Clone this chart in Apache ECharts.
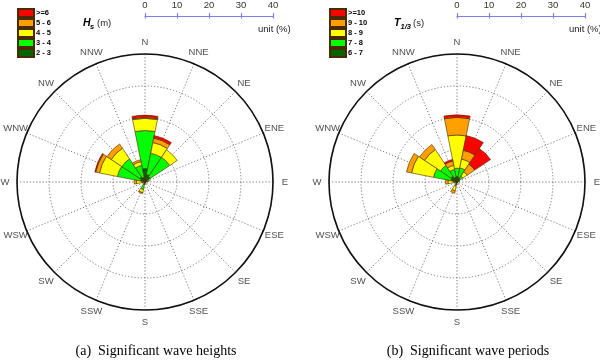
<!DOCTYPE html>
<html>
<head>
<meta charset="utf-8">
<script src="https://cdn.jsdelivr.net/npm/echarts@6/dist/echarts.min.js"></script>
<style>
html,body{margin:0;padding:0;background:#fff;}
#chart{width:600px;height:361px;}
</style>
</head>
<body>
<div id="chart"></div>
<script>
// ---- data ----
const dirs = ['N','NNE','NE','ENE','E','ESE','SE','SSE','S','SSW','SW','WSW','W','WNW','NW','NNW'];
const scaleTicks = [0, 10, 20, 30, 40];

// (a) significant wave heights, frequency (%) by class
const hsNames = ['2 - 3', '3 - 4', '4 - 5', '5 - 6', '>=6'];
const hs_2_3 = [4.2, 2.4, 2.0, 0.8, 0.3, 0.2, 0.2, 0.2, 0.5, 0.8, 0.3, 0.3, 0.6, 1.5, 2.0, 1.5];
const hs_3_4 = [11.9, 6.8, 7.3, 0.6, 0, 0, 0, 0, 0, 1.6, 0, 0, 0.5, 7.3, 6.7, 3.8];
const hs_4_5 = [3.8, 3.4, 2.8, 0, 0, 0, 0, 0, 0, 1.0, 0, 0, 1.6, 5.7, 4.0, 1.2];
const hs_5_6 = [0.3, 1.4, 0, 0, 0, 0, 0, 0, 0, 0.3, 0, 0, 0.7, 1.2, 1.6, 0.6];
const hs_6   = [0.7, 0.8, 0, 0, 0, 0, 0, 0, 0, 0, 0, 0, 0, 0.3, 0, 0];

// (b) significant wave periods, frequency (%) by class
const tNames = ['6 - 7', '7 - 8', '8 - 9', '9 - 10', '>=10'];
const t_6_7  = [1.7, 1.5, 1.2, 0.5, 0.2, 0.2, 0.2, 0.2, 0.4, 0.8, 0.3, 0.3, 0.5, 2.0, 2.3, 1.5];
const t_7_8  = [2.6, 3.0, 1.0, 0.3, 0, 0, 0, 0, 0, 0.5, 0, 0, 0.7, 5.5, 3.9, 2.5];
const t_8_9  = [10.4, 2.8, 1.6, 0, 0, 0, 0, 0, 0, 1.5, 0, 0, 1.6, 7.0, 6.0, 1.3];
const t_9_10 = [5.5, 2.8, 2.9, 0, 0, 0, 0, 0, 0, 0.8, 0, 0, 0.8, 1.6, 1.9, 1.4];
const t_10   = [0.8, 4.7, 5.9, 0, 0, 0, 0, 0, 0, 0, 0, 0, 0, 0, 0, 0.5];

const classColors = ['#006400', '#00ff00', '#ffff00', '#ffa000', '#ff0000'];
const hsSeriesData = [hs_2_3, hs_3_4, hs_4_5, hs_5_6, hs_6];
const tSeriesData = [t_6_7, t_7_8, t_8_9, t_9_10, t_10];

// ---- layout ----
const R = 128, CY = 182;
const centers = [[145, CY], [457, CY]];
const RMAX = 40;
const LABEL_R = 43.75; // direction labels just outside the rim

const chart = echarts.init(document.getElementById('chart'), null, {renderer: 'canvas'});
const sans = 'Liberation Sans, Arial, sans-serif';

const polar = [], angleAxis = [], radiusAxis = [], series = [];
centers.forEach((c, k) => {
  const gi = k * 2, bi = k * 2 + 1;
  polar.push({center: c, radius: R});
  polar.push({center: c, radius: R});
  // grid polar
  angleAxis.push({
    polarIndex: gi, type: 'value', min: 0, max: 360, interval: 22.5, startAngle: 90, clockwise: true,
    axisLine: {show: false}, axisTick: {show: false}, axisLabel: {show: false},
    splitLine: {show: true, lineStyle: {type: [1.2, 2], color: '#6a6a6a', width: 0.9}}
  });
  radiusAxis.push({
    polarIndex: gi, type: 'value', min: 0, max: RMAX, interval: 10,
    axisLine: {show: false}, axisTick: {show: false}, axisLabel: {show: false},
    splitLine: {show: true, lineStyle: {type: [1.2, 2], color: '#6a6a6a', width: 0.9}}
  });
  // bars polar
  angleAxis.push({
    polarIndex: bi, type: 'category', data: dirs, startAngle: 90 + 11.25, clockwise: true, boundaryGap: true,
    axisLine: {show: true, lineStyle: {color: '#111', width: 1.6}}, axisTick: {show: false},
    axisLabel: {show: false}, splitLine: {show: false}
  });
  radiusAxis.push({
    polarIndex: bi, type: 'value', min: 0, max: RMAX,
    axisLine: {show: false}, axisTick: {show: false}, axisLabel: {show: false}, splitLine: {show: false}
  });
  const names = k === 0 ? hsNames : tNames;
  const sdata = k === 0 ? hsSeriesData : tSeriesData;
  names.forEach((nm, j) => {
    series.push({
      name: nm, type: 'bar', coordinateSystem: 'polar', polarIndex: bi, stack: 'st' + k,
      barCategoryGap: '0%', barGap: '0%',
      data: sdata[j].map(v => v > 0 ? v : '-'),
      itemStyle: {color: classColors[j], borderColor: '#4a2a00', borderWidth: 0.6},
      emphasis: {disabled: true}, animation: false, z: 3
    });
  });
  series.push({
    type: 'scatter', coordinateSystem: 'polar', polarIndex: bi, clip: false, silent: true,
    symbolSize: 0, animation: false,
    data: dirs.map((d, i) => ({name: d, value: [LABEL_R, i]})),
    label: {show: true, position: 'inside', formatter: '{b}', fontSize: 9.5,
            fontFamily: sans, color: '#222'}
  });
});

// scale bars (0..40 %)
const grid = [], xAxis = [], yAxis = [];
centers.forEach((c, k) => {
  grid.push({left: c[0], top: 16, width: R, height: 10});
  const common = {gridIndex: k, type: 'value', min: 0, max: 40, interval: 10,
                  splitLine: {show: false}};
  xAxis.push(Object.assign({}, common, {
    position: 'top',
    axisLine: {show: true, onZero: false, lineStyle: {color: '#8080e8', width: 1.2}},
    axisTick: {show: true, length: 3, lineStyle: {color: '#8080e8', width: 1.2}},
    axisLabel: {show: true, margin: 6, fontSize: 9.5, color: '#333', showMinLabel: true, showMaxLabel: true,
                fontFamily: sans,
                formatter: v => scaleTicks.indexOf(v) >= 0 ? String(v) : ''}
  }));
  xAxis.push(Object.assign({}, common, {
    position: 'bottom', offset: -10,
    axisLine: {show: false, onZero: false},
    axisTick: {show: true, length: 2.5, lineStyle: {color: '#8080e8', width: 1.2}},
    axisLabel: {show: false}
  }));
  yAxis.push({gridIndex: k, type: 'value', min: 0, max: 1, show: false});
});

const legendCommon = {
  orient: 'vertical', itemWidth: 16, itemHeight: 8, itemGap: 0, icon: 'rect',
  selectedMode: false, padding: 0,
  textStyle: {fontSize: 7.5, fontWeight: 'bold', color: '#000', fontFamily: sans, lineHeight: 8, padding: [0, 0, 0, -3]}
};

const graphicEls = [];
function addText(x, y, text, style) {
  graphicEls.push({type: 'text', x: x, y: y, silent: true,
    style: Object.assign({text: text, fill: '#222', fontFamily: sans, verticalAlign: 'middle'}, style)});
}
// titles of class variables
addText(83, 23, 'H', {fontSize: 10.5, fontWeight: 'bold', fontStyle: 'italic', fill: '#000'});
addText(90, 26.5, 's', {fontSize: 7.5, fontWeight: 'bold', fontStyle: 'italic', fill: '#000'});
addText(97, 23, '(m)', {fontSize: 9.5});
addText(394, 23, 'T', {fontSize: 10.5, fontWeight: 'bold', fontStyle: 'italic', fill: '#000'});
addText(400.5, 26.5, '1/3', {fontSize: 7.5, fontWeight: 'bold', fontStyle: 'italic', fill: '#000'});
addText(413, 23, '(s)', {fontSize: 9.5});
addText(258, 29.5, 'unit (%)', {fontSize: 9.5});
addText(569, 29.5, 'unit (%)', {fontSize: 9.5});
// captions
addText(156, 351, '(a)  Significant wave heights', {fontSize: 14, align: 'center', fill: '#000',
        fontFamily: 'Liberation Serif, Times New Roman, serif'});
addText(468, 351, '(b)  Significant wave periods', {fontSize: 14, align: 'center', fill: '#000',
        fontFamily: 'Liberation Serif, Times New Roman, serif'});

chart.setOption({
  animation: false,
  backgroundColor: '#fff',
  polar: polar, angleAxis: angleAxis, radiusAxis: radiusAxis,
  grid: grid, xAxis: xAxis, yAxis: yAxis,
  legend: [
    Object.assign({}, legendCommon, {left: 17, top: 8, data: hsNames.slice().reverse()}),
    Object.assign({}, legendCommon, {left: 329, top: 8, data: tNames.slice().reverse()})
  ],
  graphic: graphicEls,
  series: series
});
</script>
</body>
</html>
